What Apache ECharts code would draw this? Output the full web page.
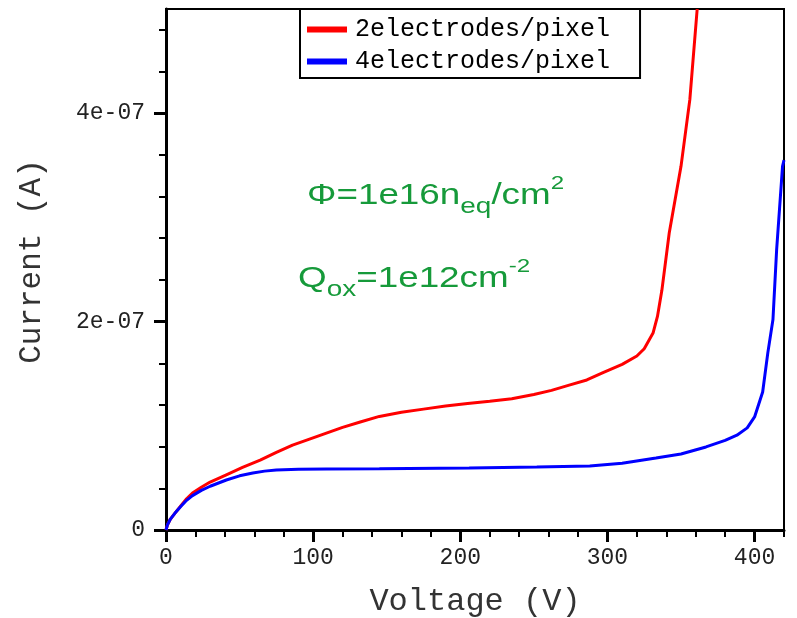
<!DOCTYPE html>
<html><head><meta charset="utf-8">
<script src="https://cdn.jsdelivr.net/npm/echarts@6/dist/echarts.min.js"></script>
<style>html,body{margin:0;padding:0;background:#fff}#c{width:797px;height:618px}</style>
</head><body><div id="c"></div>
<script>
// ---- data ----
const seriesNames = ['2electrodes/pixel', '4electrodes/pixel'];

const voltage2 = [0, 1, 3, 6, 10, 14, 18, 24, 30, 41, 52, 64, 75, 86, 98, 109, 120, 132, 145, 160, 175, 190, 205, 220, 235, 250, 262, 274, 286, 297, 310, 320, 325, 331, 334, 337, 342, 350, 356, 361];
const current2 = [0, 5e-9, 1.05e-8, 1.6e-8, 2.3e-8, 3.0e-8, 3.55e-8, 4.1e-8, 4.6e-8, 5.3e-8, 6.0e-8, 6.7e-8, 7.45e-8, 8.15e-8, 8.75e-8, 9.3e-8, 9.85e-8, 1.037e-7, 1.09e-7, 1.13e-7, 1.16e-7, 1.19e-7, 1.215e-7, 1.235e-7, 1.26e-7, 1.30e-7, 1.34e-7, 1.39e-7, 1.44e-7, 1.51e-7, 1.59e-7, 1.67e-7, 1.74e-7, 1.89e-7, 2.05e-7, 2.3e-7, 2.85e-7, 3.49e-7, 4.13e-7, 5.0e-7];

const voltage4 = [0, 1, 3, 6, 10, 14, 18, 24, 30, 41, 50, 59, 67, 75, 90, 109, 145, 206, 252, 288, 310, 333, 350, 367, 380, 388, 395, 400, 405.5, 409, 412.5, 415, 419, 420];
const current4 = [0, 5e-9, 1.05e-8, 1.6e-8, 2.25e-8, 2.85e-8, 3.3e-8, 3.8e-8, 4.2e-8, 4.8e-8, 5.2e-8, 5.47e-8, 5.65e-8, 5.76e-8, 5.83e-8, 5.86e-8, 5.87e-8, 5.95e-8, 6.05e-8, 6.15e-8, 6.4e-8, 6.9e-8, 7.3e-8, 7.97e-8, 8.6e-8, 9.1e-8, 9.8e-8, 1.085e-7, 1.325e-7, 1.70e-7, 2.02e-7, 2.69e-7, 3.49e-7, 3.55e-7];

const xMajorTicks = [0, 100, 200, 300, 400];
const xTickLabels = ['0', '100', '200', '300', '400'];
const xMinorTicks = [20, 40, 60, 80, 120, 140, 160, 180, 220, 240, 260, 280, 320, 340, 360, 380, 420];
const yMajorTicks = [0, 2e-7, 4e-7];
const yTickLabels = ['0', '2e-07', '4e-07'];
const yMinorTicks = [0.4e-7, 0.8e-7, 1.2e-7, 1.6e-7, 2.4e-7, 2.8e-7, 3.2e-7, 3.6e-7, 4.4e-7, 4.8e-7];

// ---- chart ----
const green = '#169a3a';
const mono = 'Liberation Mono, Courier New, monospace';
const sans = 'Liberation Sans, Arial, sans-serif';
const zip = (xs, ys) => xs.map((x, i) => [x, ys[i]]);

const chart = echarts.init(document.getElementById('c'), null, { renderer: 'canvas' });

const majorAxisCommon = {
  type: 'value',
  axisLine: { show: true, onZero: false, lineStyle: { color: '#000', width: 3 } },
  axisTick: { show: true, inside: false, length: 12, lineStyle: { color: '#000', width: 3 } },
  splitLine: { show: false },
  minorTick: { show: false },
  minorSplitLine: { show: false }
};
const minorAxisCommon = {
  type: 'value',
  axisLine: { show: false },
  axisTick: { show: true, inside: false, length: 7, lineStyle: { color: '#000', width: 2 } },
  axisLabel: { show: false },
  splitLine: { show: false }
};

const annRich = {
  m: { fontSize: 29, fontFamily: sans, fill: green, lineHeight: 44, verticalAlign: 'middle' },
  b: { fontSize: 22, fontFamily: sans, fill: green, lineHeight: 2, verticalAlign: 'bottom' },
  t: { fontSize: 19, fontFamily: sans, fill: green, lineHeight: 36, verticalAlign: 'top' }
};

chart.setOption({
  animation: false,
  backgroundColor: '#fff',
  grid: {
    left: 166, right: 13, top: 9, bottom: 88,
    show: true, borderColor: '#000', borderWidth: 2, backgroundColor: 'transparent',
    containLabel: false, outerBoundsMode: 'none'
  },
  xAxis: [
    Object.assign({}, majorAxisCommon, {
      min: 0, max: 420, position: 'bottom',
      axisTick: Object.assign({}, majorAxisCommon.axisTick, { customValues: xMajorTicks }),
      axisLabel: {
        customValues: xMajorTicks,
        formatter: v => xTickLabels[xMajorTicks.indexOf(v)] ?? '',
        margin: 16, fontSize: 23, fontFamily: mono, color: '#222'
      },
      name: 'Voltage (V)', nameLocation: 'middle', nameGap: 56,
      nameTextStyle: { fontSize: 32, fontFamily: mono, color: '#333' }
    }),
    Object.assign({}, minorAxisCommon, {
      min: 0, max: 420, position: 'bottom', offset: 0,
      axisTick: Object.assign({}, minorAxisCommon.axisTick, { customValues: xMinorTicks })
    })
  ],
  yAxis: [
    Object.assign({}, majorAxisCommon, {
      min: 0, max: 5e-7, position: 'left',
      axisTick: Object.assign({}, majorAxisCommon.axisTick, { customValues: yMajorTicks }),
      axisLabel: {
        customValues: yMajorTicks,
        formatter: v => { const i = yMajorTicks.findIndex(t => Math.abs(t - v) < 1e-12); return i >= 0 ? yTickLabels[i] : ''; },
        margin: 21, fontSize: 23, fontFamily: mono, color: '#222'
      },
      name: 'Current (A)', nameLocation: 'middle', nameGap: 119, nameRotate: 90,
      nameTextStyle: { fontSize: 31, fontFamily: mono, color: '#333', padding: [0, 0, 0, 16] }
    }),
    Object.assign({}, minorAxisCommon, {
      min: 0, max: 5e-7, position: 'left', offset: 0,
      axisTick: Object.assign({}, minorAxisCommon.axisTick, { customValues: yMinorTicks })
    })
  ],
  legend: {
    data: seriesNames,
    orient: 'vertical',
    left: 300, top: 9,
    icon: 'rect', itemWidth: 40, itemHeight: 6, itemGap: 7,
    borderColor: '#000', borderWidth: 2, borderRadius: 0,
    backgroundColor: '#fff',
    padding: [8, 30, 4, 7],
    textStyle: { fontFamily: mono, fontSize: 25, color: '#000', padding: [0, 0, 0, 3] }
  },
  graphic: [
    {
      type: 'text', x: 307, y: 174, scaleX: 1.27, z: 100,
      style: { text: '{m|Φ=1e16n}{b|eq}{m|/cm}{t|2}', fill: green, align: 'left', verticalAlign: 'top', rich: annRich }
    },
    {
      type: 'text', x: 298, y: 257, scaleX: 1.27, z: 100,
      style: { text: '{m|Q}{b|ox}{m|=1e12cm}{t|-2}', fill: green, align: 'left', verticalAlign: 'top', rich: annRich }
    }
  ],
  series: [
    {
      name: seriesNames[0], type: 'line', xAxisIndex: 0, yAxisIndex: 0,
      data: zip(voltage2, current2), showSymbol: false, symbol: 'none', smooth: false, clip: true,
      lineStyle: { color: '#ff0000', width: 3 }, itemStyle: { color: '#ff0000' }
    },
    {
      name: seriesNames[1], type: 'line', xAxisIndex: 0, yAxisIndex: 0,
      data: zip(voltage4, current4), showSymbol: false, symbol: 'none', smooth: false, clip: true,
      lineStyle: { color: '#0000ff', width: 3 }, itemStyle: { color: '#0000ff' }
    }
  ]
});
</script>
</body></html>
